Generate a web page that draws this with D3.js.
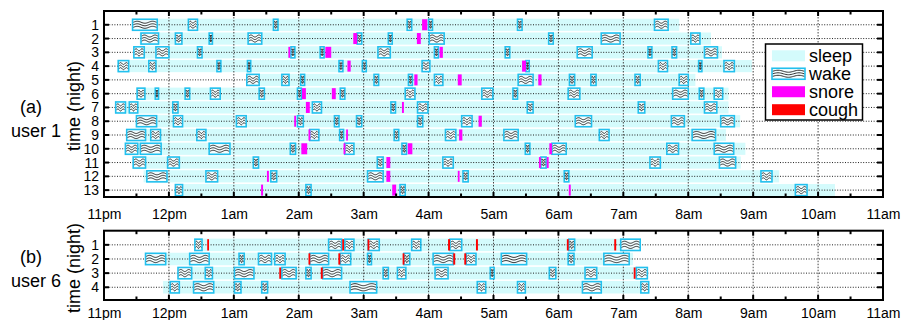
<!DOCTYPE html>
<html><head><meta charset="utf-8">
<script src="https://cdn.jsdelivr.net/npm/d3@7"></script>
<style>
body{margin:0;background:#fff}
svg{display:block}
text{font-family:"Liberation Sans",Arial,Helvetica,sans-serif;fill:#000}
</style>
</head><body>
<svg id="c" width="904" height="320"></svg>
<script>
// ---- data (times in hours after 11pm) ----
const hourLabels = ["11pm","12pm","1am","2am","3am","4am","5am","6am","7am","8am","9am","10am","11am"];

const nightsA = [1,2,3,4,5,6,7,8,9,10,11,12,13];
const sleepA = [[0.44,8.86],[0.55,9.35],[0.45,9.52],[0.20,9.98],[2.20,9.11],[0.50,9.62],[0.17,9.62],
                [0.49,9.80],[0.34,9.58],[0.32,9.88],[0.44,9.81],[0.61,10.40],[1.09,11.26]];
const wakeA = [
  [[0.44,0.82],[1.30,1.44],[2.61,2.68],[4.67,4.74],[5.00,5.06],[6.37,6.44],[8.48,8.69]],
  [[0.57,0.84],[1.10,1.20],[1.62,1.67],[2.22,2.43],[3.90,3.97],[4.38,4.44],[5.01,5.24],[6.85,6.92],[7.66,7.95],[9.04,9.18]],
  [[0.46,0.62],[0.80,1.00],[1.44,1.51],[2.88,2.94],[3.33,3.39],[4.22,4.41],[5.09,5.15],[6.18,6.25],[7.29,7.52],[8.38,8.44],[8.75,8.82],[9.25,9.45]],
  [[0.22,0.38],[0.69,0.80],[1.74,1.80],[2.21,2.26],[3.62,3.68],[3.98,4.04],[4.90,5.02],[6.50,6.55],[8.54,8.68],[9.16,9.21],[9.55,9.71]],
  [[2.20,2.39],[2.74,2.85],[3.03,3.09],[4.16,4.23],[4.69,4.75],[5.09,5.22],[6.38,6.61],[7.17,7.25],[7.50,7.58],[8.18,8.26],[8.86,9.00]],
  [[0.51,0.63],[0.79,0.84],[1.25,1.32],[1.64,1.79],[2.39,2.47],[2.98,3.04],[3.64,3.71],[4.64,4.79],[5.82,5.99],[6.30,6.37],[7.15,7.33],[8.76,9.00],[9.17,9.24],[9.40,9.53]],
  [[0.18,0.33],[0.39,0.52],[1.06,1.14],[3.21,3.35],[4.42,4.49],[4.83,4.99],[6.52,6.61],[8.23,8.33],[9.25,9.44]],
  [[0.50,0.81],[1.07,1.21],[2.04,2.19],[2.98,3.07],[3.55,3.62],[3.89,3.97],[4.83,4.91],[5.51,5.67],[7.26,7.51],[8.74,8.94],[9.50,9.71]],
  [[0.35,0.64],[0.72,0.87],[1.43,1.57],[3.17,3.31],[3.63,3.69],[4.47,4.54],[5.26,5.42],[6.16,6.38],[7.63,7.78],[9.06,9.42]],
  [[0.33,0.52],[0.56,0.88],[1.62,1.94],[2.87,2.95],[3.71,3.85],[4.59,4.66],[6.49,6.56],[6.90,7.12],[8.67,8.85],[9.40,9.70]],
  [[0.45,0.64],[0.98,1.16],[2.30,2.38],[4.21,4.30],[5.22,5.38],[6.73,6.81],[8.41,8.57],[9.48,9.73]],
  [[0.66,0.97],[1.57,1.75],[2.57,2.66],[4.06,4.30],[5.53,5.61],[7.09,7.16],[10.12,10.29]],
  [[1.10,1.21],[3.11,3.19],[4.56,4.64],[10.65,10.83]]
];
const snoreA = [
  [[4.90,4.98]],
  [[3.84,3.90],[4.82,4.88]],
  [[2.84,2.86],[3.41,3.50],[5.17,5.22]],
  [[3.75,3.80],[6.44,6.50]],
  [[4.78,4.83],[5.45,5.51],[6.69,6.74]],
  [[3.05,3.11],[3.51,3.57]],
  [[3.11,3.17],[4.59,4.62]],
  [[2.93,2.95],[5.77,5.82]],
  [[3.15,3.17],[3.73,3.75],[5.47,5.52]],
  [[3.04,3.13],[3.69,3.71],[4.68,4.75],[6.86,6.90]],
  [[4.35,4.41],[6.70,6.73],[6.82,6.85]],
  [[2.51,2.54],[4.35,4.41],[5.45,5.47]],
  [[2.42,2.45],[4.44,4.50],[7.16,7.19]]
];

const nightsB = [1,2,3,4];
const sleepB = [[1.39,8.26],[0.63,8.15],[1.14,8.37],[0.91,8.40]];
const wakeB = [
  [[1.40,1.51],[3.46,3.66],[3.71,3.85],[4.07,4.24],[4.74,4.88],[5.33,5.51],[7.16,7.25],[7.96,8.26]],
  [[0.64,0.95],[1.32,1.62],[2.08,2.16],[2.38,2.58],[2.63,2.79],[3.17,3.46],[3.64,3.80],[4.06,4.12],[4.62,4.71],[5.07,5.38],[5.58,5.73],[6.12,6.51],[7.15,7.24],[7.70,8.09]],
  [[1.14,1.35],[1.56,1.67],[2.01,2.31],[2.74,2.96],[3.11,3.19],[3.37,3.66],[4.30,4.38],[4.52,4.65],[5.10,5.30],[5.95,6.01],[6.86,6.96],[7.41,7.59],[8.20,8.37]],
  [[1.02,1.16],[1.38,1.69],[2.01,2.11],[2.43,2.52],[3.79,4.20],[5.75,5.88],[6.37,6.49],[7.37,7.66],[8.27,8.39]]
];
const coughB = [
  [[1.59,1.61],[3.67,3.69],[4.06,4.08],[5.30,5.33],[5.73,5.76],[7.13,7.15],[7.86,7.89]],
  [[3.15,3.17],[3.61,3.64],[4.60,4.62],[5.38,5.41],[5.55,5.58]],
  [[2.70,2.72],[3.34,3.37],[8.16,8.18]],
  []
];

const legendItems = ["sleep","wake","snore","cough"];

// ---- styles ----
const C = {sleep:"#d4fbfc", wakeFill:"#f4feff", wakeStroke:"#22c0ee", snore:"#ff00ff", cough:"#ff0000"};

const svg = d3.select("#c");
const x = d3.scaleLinear().domain([0,12]).range([104,883]);

function wavePath(x0, x1, y0, h) {
  const w = x1 - x0, amp = h*0.09, N = 24;
  let d = "";
  [0.27,0.5,0.73].forEach(k => {
    for (let i = 0; i <= N; i++) {
      const t = i/N;
      const px = x0 + t*w, py = y0 + k*h - amp*Math.sin(t*Math.PI*2*1.5);
      d += (i===0?"M":"L") + px.toFixed(2) + "," + py.toFixed(2);
    }
  });
  return d;
}

function drawWake(g, x0, x1, yc, h) {
  g.append("rect").attr("x",x0).attr("y",yc-h/2).attr("width",Math.max(x1-x0,2)).attr("height",h)
    .attr("fill",C.wakeFill).attr("stroke",C.wakeStroke).attr("stroke-width",1.6);
  g.append("path").attr("d",wavePath(x0+0.8,Math.max(x1,x0+2)-0.8,yc-h/2,h))
    .attr("fill","none").attr("stroke","#111").attr("stroke-width",0.85);
}

function panel(cfg) {
  const y = d3.scaleLinear().domain(cfg.yDomain).range(cfg.yRange);
  const g = svg.append("g");
  const step = y(1) - y(0);
  const bh = step*0.88, wh = step*0.8;
  const [x0, x1] = x.range();
  const [yt, yb] = cfg.yRange;

  // sleep bands
  g.selectAll(".band").data(cfg.nights).join("rect")
    .attr("x", (n,i) => x(cfg.sleep[i][0])).attr("width", (n,i) => x(cfg.sleep[i][1]) - x(cfg.sleep[i][0]))
    .attr("y", n => y(n) - bh/2).attr("height", bh).attr("fill", C.sleep);

  // grid
  g.selectAll(".hg").data(cfg.nights).join("line")
    .attr("x1", x0).attr("x2", x1).attr("y1", n => y(n)).attr("y2", n => y(n))
    .attr("stroke","#222").attr("stroke-width",1).attr("stroke-dasharray","1,1.6");
  g.selectAll(".vg").data(d3.range(1,12)).join("line")
    .attr("x1", h => x(h)).attr("x2", h => x(h)).attr("y1", yt).attr("y2", yb)
    .attr("stroke","#444").attr("stroke-width",1).attr("stroke-dasharray","1.5,1.5");

  // wake
  cfg.nights.forEach((n,i) => {
    cfg.wake[i].forEach(w => drawWake(g, x(w[0]), x(w[1]), y(n), wh));
  });
  // events
  cfg.nights.forEach((n,i) => {
    cfg.events[i].forEach(e => {
      g.append("rect").attr("x", x(e[0])).attr("width", Math.max(x(e[1]) - x(e[0]), 1.8))
        .attr("y", y(n) - wh/2).attr("height", wh).attr("fill", cfg.eventColor);
    });
  });

  // frame
  g.append("rect").attr("x",x0).attr("y",yt).attr("width",x1-x0).attr("height",yb-yt)
    .attr("fill","none").attr("stroke","#000").attr("stroke-width",2);

  // x ticks (half hours), inward top and bottom
  const tks = d3.range(0, 12.01, 0.5).filter(t => t>0 && t<12);
  tks.forEach(t => {
    const len = (t % 1 === 0) ? 5 : 3.5;
    g.append("line").attr("x1",x(t)).attr("x2",x(t)).attr("y1",yt).attr("y2",yt+len).attr("stroke","#000").attr("stroke-width",2);
    g.append("line").attr("x1",x(t)).attr("x2",x(t)).attr("y1",yb).attr("y2",yb-len).attr("stroke","#000").attr("stroke-width",2);
  });
  // y ticks inward left & right
  cfg.nights.forEach(n => {
    g.append("line").attr("x1",x0).attr("x2",x0+5).attr("y1",y(n)).attr("y2",y(n)).attr("stroke","#000").attr("stroke-width",2);
    g.append("line").attr("x1",x1).attr("x2",x1-6).attr("y1",y(n)).attr("y2",y(n)).attr("stroke","#000").attr("stroke-width",2);
  });

  // y labels via axis
  const ya = d3.axisLeft(y).tickValues(cfg.nights).tickSize(0).tickPadding(5).tickFormat(d3.format("d"));
  const yg = g.append("g").attr("transform",`translate(${x0},0)`).call(ya);
  yg.select(".domain").remove();
  yg.selectAll("text").style("font-size","14px").attr("font-family",null);

  // x labels via axis
  const xa = d3.axisBottom(x).tickValues(d3.range(0,13)).tickSize(0).tickPadding(0).tickFormat(i => hourLabels[i]);
  const xg = g.append("g").attr("transform",`translate(0,${cfg.xLabelBase})`).call(xa);
  xg.select(".domain").remove();
  xg.selectAll("text").attr("dy",null).attr("y",0).style("font-size","14px").attr("font-family",null);

  // axis title & panel labels
  g.append("text").attr("transform",`translate(80,${cfg.yTitleC}) rotate(-90)`).attr("text-anchor","middle")
    .style("font-size","18px").text("time (night)");
  g.append("text").attr("x",31).attr("y",cfg.labBase).attr("text-anchor","middle").style("font-size","18px").text(cfg.label);
  g.append("text").attr("x",36).attr("y",cfg.labBase+24).attr("text-anchor","middle").style("font-size","18px").text(cfg.user);
  return g;
}

panel({yDomain:[0,13.5], yRange:[11,197], nights:nightsA, sleep:sleepA, wake:wakeA, events:snoreA,
       eventColor:C.snore, xLabelBase:219, yTitleC:106, label:"(a)", user:"user 1", labBase:113});
panel({yDomain:[0,4.9], yRange:[230.7,300], nights:nightsB, sleep:sleepB, wake:wakeB, events:coughB,
       eventColor:C.cough, xLabelBase:318, yTitleC:268, label:"(b)", user:"user 6", labBase:263});

// legend
const lg = svg.append("g");
lg.append("rect").attr("x",765.5).attr("y",44).attr("width",97).attr("height",76)
  .attr("fill","#fff").attr("stroke","#000").attr("stroke-width",1.5);
const ly = d3.scalePoint().domain(legendItems).range([55.8,109.7]);
legendItems.forEach(k => {
  const yc = ly(k);
  if (k === "wake") drawWake(lg, 772, 805, yc, 11);
  else lg.append("rect").attr("x",772).attr("y",yc-5.5).attr("width",33).attr("height",11)
        .attr("fill", k==="sleep"?C.sleep:(k==="snore"?C.snore:C.cough));
  lg.append("text").attr("x",809).attr("y",yc+6).style("font-size","18px").text(k);
});
</script>
</body></html>
